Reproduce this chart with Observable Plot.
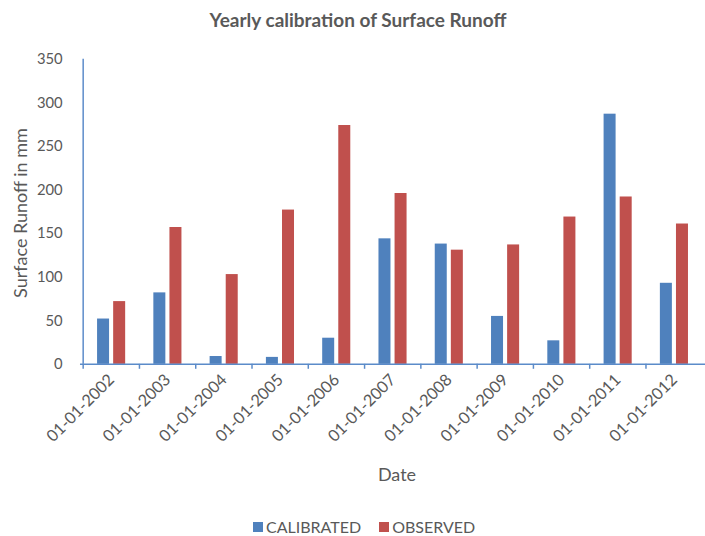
<!DOCTYPE html>
<html>
<head>
<meta charset="utf-8">
<script src="https://cdn.jsdelivr.net/npm/d3@7"></script>
<script src="https://cdn.jsdelivr.net/npm/@observablehq/plot@0.6"></script>
<style>
  html, body { margin: 0; padding: 0; background: #fff; overflow: hidden; }
  #wrap { position: relative; width: 705px; height: 536px; overflow: hidden; font-family: Lato, "Open Sans", sans-serif; color: #595959; }
  #title { position: absolute; top: 8px; left: 0; width: 716px; text-align: center; font-size: 19px; font-weight: bold; }
  #chart { position: absolute; top: 40px; left: 0; }
  #ylabel { position: absolute; left: 20px; top: 213px; transform: translate(-50%, -50%) rotate(-90deg); white-space: nowrap; font-size: 18px; }
  #xlabel { position: absolute; top: 463px; left: 0; width: 794px; text-align: center; font-size: 18px; }
  #legend { position: absolute; top: 517px; left: 253px; font-size: 16px; display: flex; align-items: center; white-space: nowrap; }
  #legend span.sw { display: inline-block; width: 10px; height: 10px; margin-right: 3px; }
</style>
</head>
<body>
<div id="wrap">
  <div id="title">Yearly calibration of Surface Runoff</div>
  <div id="chart"></div>
  <div id="ylabel">Surface Runoff in mm</div>
  <div id="xlabel">Date</div>
  <div id="legend"></div>
</div>
<script>
const dates = ["01-01-2002","01-01-2003","01-01-2004","01-01-2005","01-01-2006","01-01-2007","01-01-2008","01-01-2009","01-01-2010","01-01-2011","01-01-2012"];
const calibrated = [52, 82, 9, 8, 30, 144, 138, 55, 27, 287, 93];
const observed = [72, 157, 103, 177, 274, 196, 131, 137, 169, 192, 161];
const yTicks = [0, 50, 100, 150, 200, 250, 300, 350];
const seriesNames = ["CALIBRATED", "OBSERVED"];
const seriesColors = ["#4F81BD", "#C0504D"];

const rows = dates.map((d, i) => ({date: d, cal: calibrated[i], obs: observed[i]}));
const axisColor = "#5B8BC9";
const textColor = "#595959";
const W = 714, ML = 81, MR = 0;
const step = (W - ML - MR) / dates.length;

const chart = Plot.plot({
  width: W,
  height: 400,
  marginTop: 19,
  marginBottom: 72,
  marginLeft: ML,
  marginRight: MR,
  style: {fontFamily: "Lato, 'Open Sans', sans-serif", background: "transparent", color: textColor, overflow: "visible"},
  x: {domain: dates, padding: 0, label: null},
  y: {domain: [0, 350], label: null},
  marks: [
    Plot.barY(rows, {x: "date", y: "cal", fill: seriesColors[0], insetLeft: 14.3, insetRight: step - 27}),
    Plot.barY(rows, {x: "date", y: "obs", fill: seriesColors[1], insetLeft: 30.6, insetRight: step - 43.3}),
    Plot.ruleY([0], {stroke: axisColor, strokeWidth: 1.5}),
    Plot.ruleX([dates[0]], {x: d => d, dx: -step / 2, y1: 0, y2: 350, stroke: axisColor, strokeWidth: 1.5}),
    Plot.axisX({tickSize: 5, dx: -step / 2, tickFormat: () => "", stroke: axisColor, strokeWidth: 1.5, label: null}),
    Plot.axisX({tickSize: 0, tickPadding: 13, tickRotate: -45, fontSize: 16.5, fill: textColor, label: null}),
    Plot.axisY({ticks: yTicks, tickSize: 0, tickPadding: 18, fontSize: 15, fill: textColor, label: null})
  ]
});
document.getElementById("chart").appendChild(chart);

const legend = document.getElementById("legend");
seriesNames.forEach((name, i) => {
  const item = document.createElement("span");
  item.style.marginRight = i === 0 ? "18px" : "0";
  item.style.display = "inline-flex";
  item.style.alignItems = "center";
  item.innerHTML = `<span class="sw" style="background:${seriesColors[i]}"></span>${name}`;
  legend.appendChild(item);
});
</script>
</body>
</html>
